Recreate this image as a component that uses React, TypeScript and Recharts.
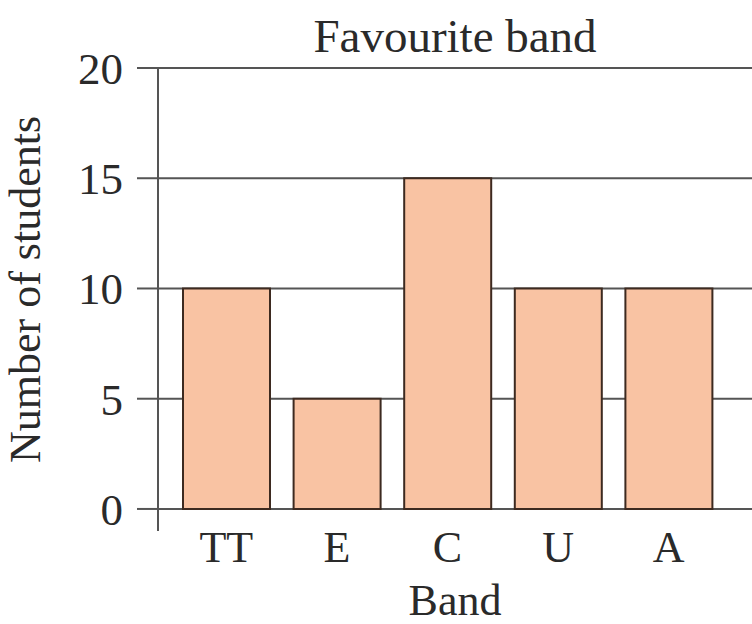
import { BarChart, Bar, XAxis, YAxis, CartesianGrid } from 'recharts';

const bands = ['TT', 'E', 'C', 'U', 'A'];
const students = [10, 5, 15, 10, 10];
const yTicks = [0, 5, 10, 15, 20];

const data = bands.map((band, i) => ({ band, students: students[i] }));

const font = '"Liberation Serif", "DejaVu Serif", serif';
const ink = '#2a2a2a';
const lineColor = '#555';

export default function App() {
  return (
    <div style={{ position: 'absolute', left: 0, top: 0, width: 752, height: 624, background: '#fff' }}>
      <div
        style={{
          position: 'absolute',
          left: 158,
          width: 594,
          top: 13,
          textAlign: 'center',
          fontFamily: font,
          fontSize: 47,
          lineHeight: '47px',
          color: ink,
        }}
      >
        Favourite band
      </div>
      <BarChart
        width={752}
        height={624}
        data={data}
        margin={{ top: 68, right: 0, bottom: 0, left: 0 }}
        barCategoryGap={12}
      >
        {/* gridlines only at the labelled ticks, behind the bars */}
        <CartesianGrid vertical={false} horizontalValues={yTicks} stroke={lineColor} strokeWidth={2} />
        <XAxis
          dataKey="band"
          height={93}
          axisLine={false}
          tickLine={false}
          tickSize={0}
          tickMargin={0}
          padding={{ left: 13, right: 28 }}
          tick={{ fill: ink, fontSize: 44, fontFamily: font }}
          label={{ value: 'Band', position: 'insideBottom', offset: 9, fill: ink, fontSize: 44, fontFamily: font }}
        />
        <YAxis
          width={158}
          domain={[-1, 20]}
          ticks={yTicks}
          allowDataOverflow
          axisLine={{ stroke: lineColor, strokeWidth: 2 }}
          tickLine={{ stroke: lineColor, strokeWidth: 2 }}
          tickSize={21}
          tickMargin={14}
          tick={{ fill: ink, fontSize: 45, fontFamily: font }}
          label={{
            value: 'Number of students',
            angle: -90,
            position: 'insideLeft',
            offset: 24,
            dy: -10,
            style: { textAnchor: 'middle' },
            fill: ink,
            fontSize: 44,
            fontFamily: font,
          }}
        />
        <Bar dataKey="students" fill="#f9c3a3" stroke="#3d2a20" strokeWidth={2} isAnimationActive={false} />
      </BarChart>
    </div>
  );
}
